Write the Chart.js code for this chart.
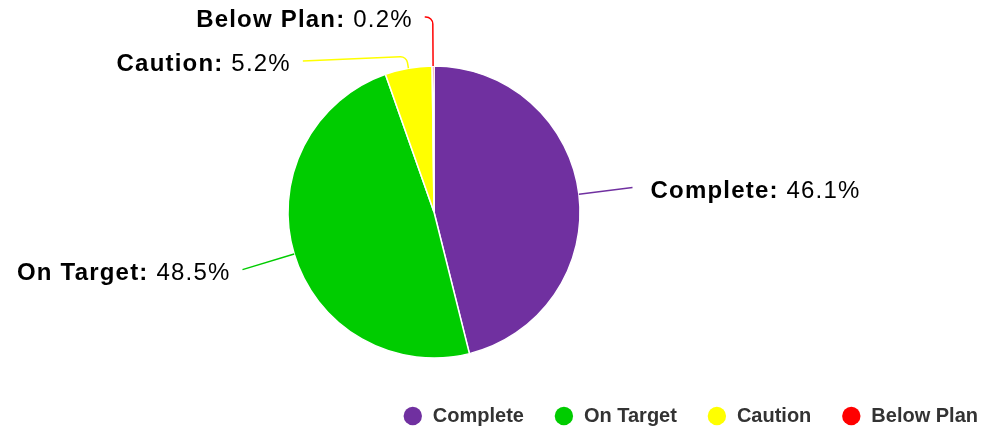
<!DOCTYPE html>
<html>
<head>
<meta charset="utf-8">
<script src="https://cdn.jsdelivr.net/npm/chart.js@4/dist/chart.umd.min.js"></script>
<style>
  html, body { margin: 0; padding: 0; background: #ffffff; overflow: hidden; }
  #wrap { width: 990px; height: 432px; position: relative; }
</style>
</head>
<body>
<div id="wrap"><canvas id="c"></canvas></div>
<script>
// ---- data ----
const categories = ['Complete', 'On Target', 'Caution', 'Below Plan'];
const shares = [46.1, 48.5, 5.2, 0.2];
const sliceColors = ['#7030A0', '#00CC00', '#FFFF00', '#FF0000'];

const FONT = "'Liberation Sans', Arial, Helvetica, sans-serif";
const LABEL_SIZE = 24;
const LABEL_SPACING = '1.2px';
const LEADER = 54;      // radial length of the leader line
const SPACING = 44;     // min vertical spacing between labels on one side
const TOP_MIN = 17;     // highest label anchor y
const LEGEND_SHIFT_X = 140;
const LEGEND_SHIFT_Y = 4;

const pieLabels = {
  id: 'pieLabels',
  afterDatasetsDraw(chart) {
    const ctx = chart.ctx;
    const meta = chart.getDatasetMeta(0);
    const ds = chart.data.datasets[0];
    const items = meta.data.map((arc, i) => {
      const p = arc.getProps(['x', 'y', 'startAngle', 'endAngle', 'outerRadius'], true);
      const mid = (p.startAngle + p.endAngle) / 2;
      const ux = Math.cos(mid), uy = Math.sin(mid);
      const R = p.outerRadius + LEADER;
      return {
        i, cx: p.x, cy: p.y, R, ux, uy,
        p0: { x: p.x + ux * p.outerRadius, y: p.y + uy * p.outerRadius },
        p1: { x: p.x + ux * R, y: p.y + uy * R },
        side: ux >= 0 ? 1 : -1
      };
    });
    [1, -1].forEach(side => {
      const list = items.filter(it => it.side === side).sort((a, b) => a.p1.y - b.p1.y);
      let prev = -Infinity;
      list.forEach(it => {
        const ty = Math.max(it.p1.y, TOP_MIN, prev + SPACING);
        prev = ty;
        it.ty = ty;
        const moved = ty - it.p1.y;
        if (moved > 10) {
          const rel = (ty - it.cy) / it.R;
          it.tx = it.cx + side * Math.sqrt(Math.max(0, 1 - rel * rel)) * it.R;
        } else if (moved > 0) {
          it.tx = it.p1.x + side * 8;
        } else {
          it.tx = it.p1.x;
        }
      });
    });
    ctx.save();
    items.forEach(it => {
      const color = ds.backgroundColor[it.i];
      // leader line: radial segment, rounded elbow, then straight to the label
      let t = (it.ty - it.p0.y) / it.uy;
      if (!isFinite(t) || t < 12) t = 12;
      if (t > 60) t = 60;
      const e = { x: it.p0.x + it.ux * t, y: it.p0.y + it.uy * t };
      ctx.beginPath();
      ctx.moveTo(it.p0.x, it.p0.y);
      ctx.arcTo(e.x, e.y, it.tx, it.ty, 7);
      ctx.lineTo(it.tx, it.ty);
      ctx.strokeStyle = color;
      ctx.lineWidth = 1.5;
      ctx.stroke();
      // label text
      const name = chart.data.labels[it.i] + ': ';
      const val = ds.data[it.i].toFixed(1) + '%';
      const boldFont = 'bold ' + LABEL_SIZE + 'px ' + FONT;
      const normFont = LABEL_SIZE + 'px ' + FONT;
      ctx.letterSpacing = LABEL_SPACING;
      ctx.font = boldFont;
      const w1 = ctx.measureText(name).width;
      ctx.font = normFont;
      const w2 = ctx.measureText(val).width;
      const ty = it.ty + 3.5;
      const x0 = it.side > 0 ? it.tx + 18 : it.tx - 12 - w1 - w2;
      ctx.textBaseline = 'middle';
      ctx.textAlign = 'left';
      ctx.fillStyle = '#000000';
      ctx.font = boldFont;
      ctx.fillText(name, x0, ty);
      ctx.font = normFont;
      ctx.fillText(val, x0 + w1, ty);
      ctx.letterSpacing = '0px';
    });
    ctx.restore();
  }
};

const legendShift = {
  id: 'legendShift',
  afterLayout(chart) {
    const lg = chart.legend;
    if (!lg) return;
    lg.left += LEGEND_SHIFT_X; lg.right += LEGEND_SHIFT_X;
    lg.top += LEGEND_SHIFT_Y; lg.bottom += LEGEND_SHIFT_Y;
  }
};

new Chart(document.getElementById('c'), {
  type: 'pie',
  data: {
    labels: categories,
    datasets: [{
      data: shares,
      backgroundColor: sliceColors,
      borderColor: '#ffffff',
      borderWidth: 1.5,
      radius: 146
    }]
  },
  options: {
    responsive: true,
    maintainAspectRatio: false,
    animation: false,
    layout: { padding: { top: 52, right: 122, left: 0, bottom: 0 } },
    plugins: {
      tooltip: { enabled: false },
      legend: {
        position: 'bottom',
        align: 'end',
        labels: {
          usePointStyle: true,
          pointStyle: 'circle',
          boxWidth: 20,
          boxHeight: 13,
          padding: 30,
          color: '#333333',
          font: { family: FONT, size: 20, weight: 'bold' },
          generateLabels(chart) {
            const items = Chart.overrides.pie.plugins.legend.labels.generateLabels(chart);
            items.forEach(it => { it.strokeStyle = it.fillStyle; it.lineWidth = 0; });
            return items;
          }
        }
      }
    }
  },
  plugins: [pieLabels, legendShift]
});
</script>
</body>
</html>
